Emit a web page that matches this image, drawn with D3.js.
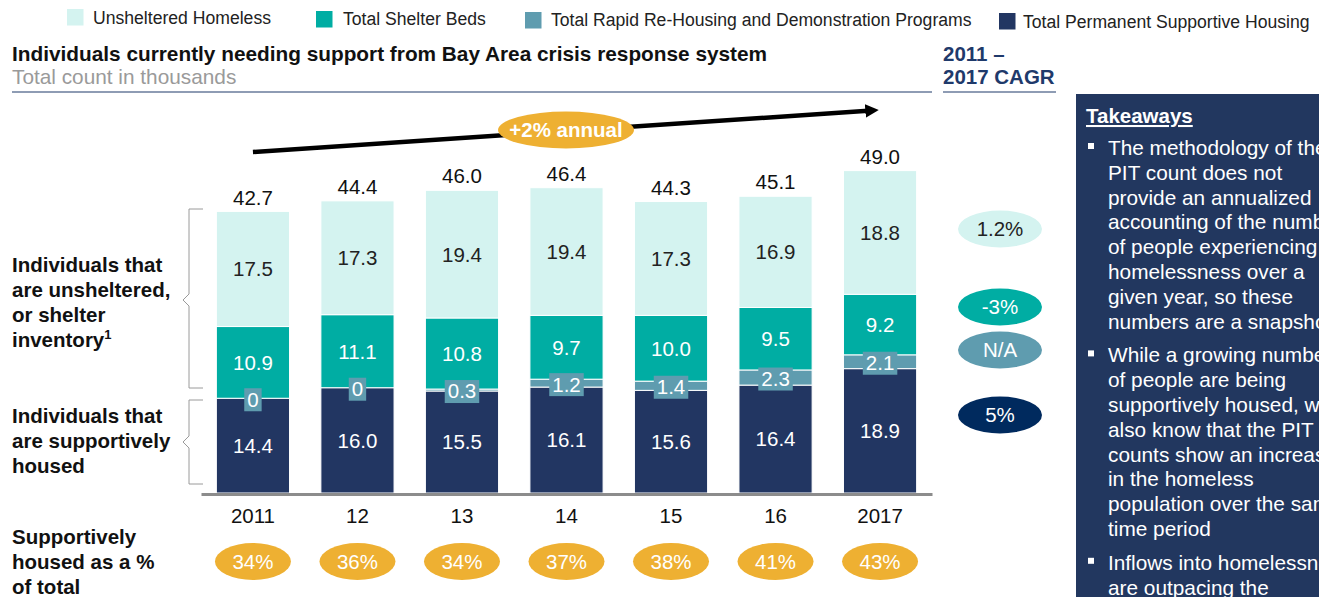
<!DOCTYPE html>
<html>
<head>
<meta charset="utf-8">
<script src="https://cdn.jsdelivr.net/npm/d3@7"></script>
<style>
  body { margin: 0; background: #fff; }
  svg { display: block; font-family: "Liberation Sans", Arial, sans-serif; }
</style>
</head>
<body>
<div id="chart"></div>
<script>
const years = ["2011", "12", "13", "14", "15", "16", "2017"]
const supportiveHousing = [14.4, 16.0, 15.5, 16.1, 15.6, 16.4, 18.9]
const rapidRehousing = [0, 0, 0.3, 1.2, 1.4, 2.3, 2.1]
const shelterBeds = [10.9, 11.1, 10.8, 9.7, 10.0, 9.5, 9.2]
const unsheltered = [17.5, 17.3, 19.4, 19.4, 17.3, 16.9, 18.8]
const totals = [42.7, 44.4, 46.0, 46.4, 44.3, 45.1, 49.0]
const housedShare = ["34%", "36%", "34%", "37%", "38%", "41%", "43%"]
const cagrLabels = ["1.2%", "-3%", "N/A", "5%"]
const legendLabels = ["Unsheltered Homeless", "Total Shelter Beds", "Total Rapid Re-Housing and Demonstration Programs", "Total Permanent Supportive Housing"]
const takeaways = [
  ["The methodology of the", "PIT count does not", "provide an annualized", "accounting of the number", "of people experiencing", "homelessness over a", "given year, so these", "numbers are a snapshot"],
  ["While a growing number", "of people are being", "supportively housed, we", "also know that the PIT", "counts show an increase", "in the homeless", "population over the same", "time period"],
  ["Inflows into homelessness", "are outpacing the"]
]

const colors = {
  unsheltered: "#d4f3f0",
  shelter: "#00ada3",
  rrh: "#5f9caf",
  psh: "#223662",
  gold: "#eeb032",
  navy: "#1f3a6b"
}

const width = 1319
const height = 597
const labelSize = 20.5

const svg = d3.select("#chart")
  .append("svg")
  .attr("width", width)
  .attr("height", height)
  .attr("viewBox", [0, 0, width, height])

// Scales
const x = d3.scaleBand()
  .domain(years)
  .range([201, 932])
  .paddingInner(0.3)
  .paddingOuter(0.147)

const y = d3.scaleLinear()
  .domain([0, 49])
  .range([493, 170.6])

// Stack data
const rows = years.map((yr, i) => ({
  year: yr,
  psh: supportiveHousing[i],
  rrh: rapidRehousing[i],
  shelter: shelterBeds[i],
  unsheltered: unsheltered[i]
}))
const keys = ["psh", "rrh", "shelter", "unsheltered"]
const series = d3.stack().keys(keys)(rows)

// Legend
const legendItems = [
  { x: 67, y: 9, key: "unsheltered", tx: 93, ty: 24 },
  { x: 316, y: 11, key: "shelter", tx: 343, ty: 25 },
  { x: 525, y: 12, key: "rrh", tx: 551, ty: 26 },
  { x: 999, y: 13, key: "psh", tx: 1023, ty: 28 }
]
const legend = svg.append("g")
legendItems.forEach((d, i) => {
  legend.append("rect")
    .attr("x", d.x).attr("y", d.y)
    .attr("width", 16.5).attr("height", 16.5)
    .attr("fill", colors[d.key])
  legend.append("text")
    .attr("x", d.tx).attr("y", d.ty)
    .attr("font-size", 17.6)
    .attr("fill", "#222")
    .text(legendLabels[i])
})

// Title block
svg.append("text")
  .attr("x", 12).attr("y", 61)
  .attr("font-size", 20.8).attr("font-weight", "bold").attr("fill", "#111")
  .text("Individuals currently needing support from Bay Area crisis response system")
svg.append("text")
  .attr("x", 12).attr("y", 84)
  .attr("font-size", 20.8).attr("fill", "#9a9a9a")
  .text("Total count in thousands")
svg.append("line")
  .attr("x1", 12).attr("x2", 932).attr("y1", 92).attr("y2", 92)
  .attr("stroke", colors.navy).attr("stroke-width", 1.2)

svg.append("text")
  .attr("x", 943).attr("y", 61)
  .attr("font-size", 20.5).attr("font-weight", "bold").attr("fill", colors.navy)
  .text("2011 –")
svg.append("text")
  .attr("x", 943).attr("y", 84)
  .attr("font-size", 20.5).attr("font-weight", "bold").attr("fill", colors.navy)
  .text("2017 CAGR")
svg.append("line")
  .attr("x1", 943).attr("x2", 1056).attr("y1", 92).attr("y2", 92)
  .attr("stroke", colors.navy).attr("stroke-width", 1.2)

// Bars
const g = svg.append("g")
g.selectAll(".layer")
  .data(series)
  .enter()
  .append("g")
  .attr("class", "layer")
  .attr("fill", d => colors[d.key])
  .selectAll("rect")
  .data(d => d)
  .enter()
  .append("rect")
  .attr("x", d => x(d.data.year))
  .attr("y", d => y(d[1]))
  .attr("width", x.bandwidth())
  .attr("height", d => Math.max(0, y(d[0]) - y(d[1])))
  .attr("stroke", "#fff")
  .attr("stroke-width", 1)

// Axis
const axis = svg.append("g")
  .attr("transform", `translate(0,${y(0) + 1})`)
  .call(d3.axisBottom(x).tickSize(0).tickPadding(14))
axis.select(".domain").attr("stroke", "#8c8c8c").attr("stroke-width", 3)
axis.selectAll("text")
  .attr("font-size", labelSize)
  .attr("fill", "#111")
  .attr("font-family", "Liberation Sans, Arial, sans-serif")

// Segment labels
series.forEach(s => {
  if (s.key === "rrh") return
  g.selectAll(null)
    .data(s)
    .enter()
    .append("text")
    .attr("x", d => x(d.data.year) + x.bandwidth() / 2)
    .attr("y", d => (y(d[0]) + y(d[1])) / 2)
    .attr("dy", "0.36em")
    .attr("text-anchor", "middle")
    .attr("font-size", labelSize)
    .attr("fill", s.key === "unsheltered" ? "#222" : "#fff")
    .text(d => (d[1] - d[0]).toFixed(1))
})

// Rapid re-housing labels with boxes
const rrhSeries = series.find(s => s.key === "rrh")
const rrhLabel = g.selectAll(".rrh-label")
  .data(rrhSeries)
  .enter()
  .append("g")
  .attr("class", "rrh-label")
  .attr("transform", d => `translate(${x(d.data.year) + x.bandwidth() / 2},${(y(d[0]) + y(d[1])) / 2 + 1})`)
rrhLabel.append("text")
  .attr("text-anchor", "middle")
  .attr("dy", "0.36em")
  .attr("font-size", labelSize)
  .attr("fill", "#fff")
  .text(d => d.data.rrh === 0 ? "0" : d.data.rrh.toFixed(1))
rrhLabel.each(function() {
  const sel = d3.select(this)
  const bb = sel.select("text").node().getBBox()
  sel.insert("rect", "text")
    .attr("x", bb.x - 3).attr("y", -11)
    .attr("width", bb.width + 6).attr("height", 23)
    .attr("fill", colors.rrh)
})

// Totals
g.selectAll(".total")
  .data(rows)
  .enter()
  .append("text")
  .attr("x", d => x(d.year) + x.bandwidth() / 2)
  .attr("y", (d, i) => y(totals[i]) - 7)
  .attr("text-anchor", "middle")
  .attr("font-size", labelSize)
  .attr("fill", "#111")
  .text((d, i) => totals[i].toFixed(1))

// Trend arrow
const x0 = x(years[0]) + x.bandwidth() / 2
svg.append("defs").append("marker")
  .attr("id", "arrow")
  .attr("viewBox", "0 0 10 10")
  .attr("refX", 2).attr("refY", 5)
  .attr("markerWidth", 3).attr("markerHeight", 3)
  .attr("orient", "auto")
  .append("path")
  .attr("d", "M0,0 L10,5 L0,10 Z")
  .attr("fill", "#000")
svg.append("line")
  .attr("x1", x0).attr("y1", 152)
  .attr("x2", 868).attr("y2", 110.8)
  .attr("stroke", "#000").attr("stroke-width", 4.5)
  .attr("marker-end", "url(#arrow)")
svg.append("ellipse")
  .attr("cx", 566).attr("cy", 130).attr("rx", 68).attr("ry", 18.5)
  .attr("fill", colors.gold)
svg.append("text")
  .attr("x", 566).attr("y", 130).attr("dy", "0.36em")
  .attr("text-anchor", "middle")
  .attr("font-size", 20.5).attr("font-weight", "bold").attr("fill", "#fff")
  .text("+2% annual")

// Braces on the left
function brace(top, bottom, mid) {
  const p = d3.path()
  p.moveTo(203, top)
  p.lineTo(189, top)
  p.lineTo(189, mid - 6)
  p.lineTo(183, mid)
  p.lineTo(189, mid + 6)
  p.lineTo(189, bottom)
  p.lineTo(203, bottom)
  svg.append("path")
    .attr("d", p.toString())
    .attr("fill", "none")
    .attr("stroke", "#9a9a9a")
    .attr("stroke-width", 1)
}
brace(209, 388, 300)
brace(400, 484, 442)

// Left side labels
function multiline(lines, x0, y0, lh) {
  const t = svg.append("text")
    .attr("font-size", 20.5).attr("font-weight", "bold").attr("fill", "#111")
  lines.forEach((l, i) => {
    t.append("tspan").attr("x", x0).attr("y", y0 + i * lh).text(l)
  })
  return t
}
const unshelteredLabel = multiline(["Individuals that", "are unsheltered,", "or shelter", "inventory"], 12, 272, 25)
unshelteredLabel.append("tspan")
  .attr("dy", -8).attr("font-size", 13).text("1")
multiline(["Individuals that", "are supportively", "housed"], 12, 423, 25)
multiline(["Supportively", "housed as a %", "of total"], 12, 544, 25)

// Supportively housed share ellipses
const share = svg.append("g")
share.selectAll("ellipse")
  .data(years)
  .enter()
  .append("ellipse")
  .attr("cx", d => x(d) + x.bandwidth() / 2)
  .attr("cy", 561.5)
  .attr("rx", 38).attr("ry", 18.5)
  .attr("fill", colors.gold)
share.selectAll("text")
  .data(years)
  .enter()
  .append("text")
  .attr("x", d => x(d) + x.bandwidth() / 2)
  .attr("y", 561.5).attr("dy", "0.36em")
  .attr("text-anchor", "middle")
  .attr("font-size", labelSize).attr("fill", "#fff")
  .text((d, i) => housedShare[i])

// CAGR ellipses
const cagr = [
  { cy: 229, fill: colors.unsheltered, text: "#222" },
  { cy: 307, fill: colors.shelter, text: "#fff" },
  { cy: 350, fill: colors.rrh, text: "#fff" },
  { cy: 415, fill: "#002a5e", text: "#fff" }
]
cagr.forEach((c, i) => {
  svg.append("ellipse")
    .attr("cx", 1000).attr("cy", c.cy).attr("rx", 42).attr("ry", 18.5)
    .attr("fill", c.fill)
  svg.append("text")
    .attr("x", 1000).attr("y", c.cy).attr("dy", "0.36em")
    .attr("text-anchor", "middle")
    .attr("font-size", labelSize).attr("fill", c.text)
    .text(cagrLabels[i])
})

// Takeaways panel
svg.append("rect")
  .attr("x", 1076).attr("y", 94)
  .attr("width", width - 1076).attr("height", height - 94)
  .attr("fill", "#22375f")
svg.append("text")
  .attr("x", 1086).attr("y", 123)
  .attr("font-size", 20.5).attr("font-weight", "bold").attr("fill", "#fff")
  .attr("text-decoration", "underline")
  .text("Takeaways")

let ty = 155
takeaways.forEach(lines => {
  svg.append("rect")
    .attr("x", 1088).attr("y", ty - 12)
    .attr("width", 6).attr("height", 6)
    .attr("fill", "#fff")
  lines.forEach(l => {
    svg.append("text")
      .attr("x", 1108).attr("y", ty)
      .attr("font-size", 20.8).attr("fill", "#fff")
      .text(l)
    ty += 24.8
  })
  ty += 9
})
</script>
</body>
</html>
